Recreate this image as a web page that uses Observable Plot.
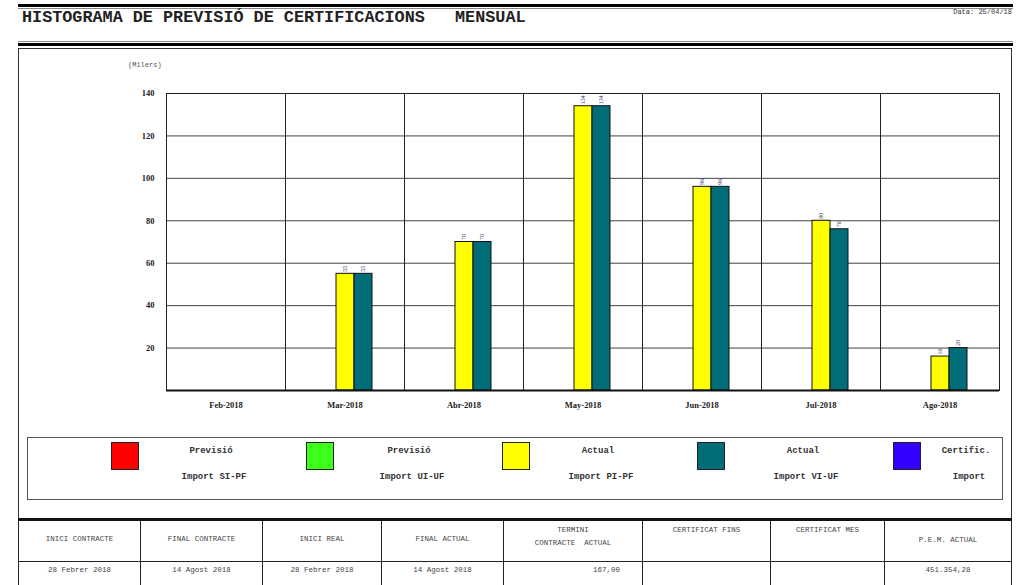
<!DOCTYPE html>
<html>
<head>
<meta charset="utf-8">
<script src="https://cdn.jsdelivr.net/npm/d3@7"></script>
<script src="https://cdn.jsdelivr.net/npm/@observablehq/plot@0.6"></script>
<style>
  html, body { margin: 0; padding: 0; background: #fff; }
  #page { position: relative; width: 1018px; height: 585px; overflow: hidden; background: #fff; font-family: "Liberation Mono", "DejaVu Sans Mono", monospace; }
  .abs { position: absolute; }
  .leglab { position: absolute; font-size: 9px; font-weight: bold; color: #333; transform: translateX(-50%); white-space: pre; }
  .sw { position: absolute; width: 26px; height: 26px; border: 1.5px solid #222; }
  .th, .td { position: absolute; font-size: 7.5px; color: #444; white-space: pre; text-align: center; line-height: 13px; }
</style>
</head>
<body>
<div id="page">
  <div class="abs" style="left:18px;top:4px;width:995px;height:0;border-top:3px solid #000;"></div>
  <div class="abs" style="left:18px;top:8px;width:995px;height:0;border-top:1px solid #888;"></div>
  <div id="title" class="abs" style="left:22px;top:8px;font-size:16.8px;font-weight:bold;white-space:pre;color:#222;"></div>
  <div id="date" class="abs" style="right:6px;top:8px;font-size:7px;color:#333;white-space:pre;"></div>
  <div class="abs" style="left:18px;top:41px;width:995px;height:0;border-top:1px solid #888;"></div>
  <div class="abs" style="left:18px;top:43px;width:995px;height:0;border-top:3px solid #000;"></div>
  <div class="abs" style="left:18px;top:48px;width:992px;height:470px;border:1.5px solid #333;border-bottom:none;"></div>
  <div id="unit" class="abs" style="left:128px;top:61px;font-size:7px;color:#555;"></div>
  <div id="chart" class="abs" style="left:0;top:50px;"></div>
  <div id="legend" class="abs" style="left:27px;top:437px;width:974px;height:61px;border:1.5px solid #555;"></div>
  <div id="table" class="abs" style="left:18px;top:518px;width:994px;height:70px;border-top:3px solid #111;"></div>
</div>
<script>
// ---- data ----
const titleText = "HISTOGRAMA DE PREVISIÓ DE CERTIFICACIONS   MENSUAL";
const dateText = "Data: 25/04/18";
const unitText = "(Milers)";
const months = ["Feb-2018", "Mar-2018", "Abr-2018", "May-2018", "Jun-2018", "Jul-2018", "Ago-2018"];
const seriesTop = ["Previsió", "Previsió", "Actual", "Actual", "Certific."];
const seriesBottom = ["Import SI-PF", "Import UI-UF", "Import PI-PF", "Import VI-UF", "Import"];
const seriesColors = ["#ff0000", "#3dff1a", "#ffff00", "#006d78", "#3300ff"];
const actualPIPF = [0, 55, 70, 134, 96, 80, 16];
const actualVIUF = [0, 55, 70, 134, 96, 76, 20];
const yTicks = [20, 40, 60, 80, 100, 120, 140];
const tableHeaders = ["INICI CONTRACTE", "FINAL CONTRACTE", "INICI REAL", "FINAL ACTUAL", "TERMINI\nCONTRACTE  ACTUAL", "CERTIFICAT FINS", "CERTIFICAT MES", "P.E.M. ACTUAL"];
const tableValues = ["28 Febrer 2018", "14 Agost 2018", "28 Febrer 2018", "14 Agost 2018", "167,00", "", "", "451.354,28"];

// ---- texts ----
document.getElementById("title").textContent = titleText;
document.getElementById("date").textContent = dateText;
document.getElementById("unit").textContent = unitText;

const seriesNames = seriesTop.map((t, i) => t + " " + seriesBottom[i]);
const rows = months.flatMap((m, i) => [
  {month: m, series: seriesNames[2], value: actualPIPF[i]},
  {month: m, series: seriesNames[3], value: actualVIUF[i]}
]);
const labelled = rows.filter(d => d.value > 0);

const chart = Plot.plot({
  width: 1018,
  height: 370,
  marginLeft: 165,
  marginRight: 18,
  marginTop: 43,
  marginBottom: 30,
  style: {fontFamily: "Liberation Serif", fontSize: "8.5px", fontWeight: "bold", background: "transparent", color: "#222"},
  fx: {domain: months, padding: 0, label: null, axis: "bottom", tickSize: 0, tickPadding: 11},
  x: {domain: seriesNames, paddingInner: 0, paddingOuter: 0.64, axis: null},
  y: {domain: [0, 140], ticks: yTicks, tickSize: 0, tickPadding: 12, label: null},
  color: {domain: seriesNames, range: seriesColors},
  marks: [
    Plot.gridY(yTicks, {stroke: "#222", strokeOpacity: 0.85}),
    Plot.frame({stroke: "#222"}),
    Plot.barY(rows, {fx: "month", x: "series", y: "value", fill: "series", stroke: "#111", strokeWidth: 1}),
    Plot.text(labelled, {fx: "month", x: "series", y: "value", text: d => String(d.value), rotate: -90, textAnchor: "start", dy: -2, fontSize: 6, fontWeight: "normal", fill: "#3b2f6b"}),
    Plot.ruleY([0], {stroke: "#111", strokeWidth: 2})
  ]
});
document.getElementById("chart").appendChild(chart);

// ---- legend ----
const legend = document.getElementById("legend");
const swX = [83, 278, 474, 669, 865];
const labX = [183, 381, 570, 775, 938];
seriesNames.forEach((s, i) => {
  const sw = document.createElement("div");
  sw.className = "sw";
  sw.style.left = swX[i] + "px";
  sw.style.top = "4px";
  sw.style.background = seriesColors[i];
  legend.appendChild(sw);
  const t = document.createElement("div");
  t.className = "leglab";
  t.style.left = labX[i] + "px";
  t.style.top = "8px";
  t.textContent = seriesTop[i];
  legend.appendChild(t);
  const b = document.createElement("div");
  b.className = "leglab";
  b.style.left = (labX[i] + 3) + "px";
  b.style.top = "34px";
  b.textContent = seriesBottom[i];
  legend.appendChild(b);
});

// ---- table ----
const table = document.getElementById("table");
const colX = [0, 122, 244, 363, 485, 624, 752, 866, 994];
const headTop = [12, 12, 12, 12, 3, 3, 3, 13];
for (let i = 0; i < 8; i++) {
  const cell = document.createElement("div");
  cell.className = "abs";
  cell.style.left = colX[i] + "px";
  cell.style.top = "0px";
  cell.style.width = (colX[i + 1] - colX[i]) + "px";
  cell.style.height = "70px";
  cell.style.boxSizing = "border-box";
  cell.style.borderLeft = "1.5px solid #222";
  if (i === 7) cell.style.borderRight = "1.5px solid #222";
  table.appendChild(cell);
  const h = document.createElement("div");
  h.className = "th";
  h.style.left = "0px";
  h.style.width = "100%";
  h.style.top = headTop[i] + "px";
  h.textContent = tableHeaders[i];
  cell.appendChild(h);
  const v = document.createElement("div");
  v.className = "td";
  v.style.top = "43px";
  if (i === 4) { v.style.right = "22px"; v.style.textAlign = "right"; }
  else { v.style.left = "0px"; v.style.width = "100%"; }
  v.textContent = tableValues[i];
  cell.appendChild(v);
}
const sep = document.createElement("div");
sep.className = "abs";
sep.style.cssText = "left:0;top:40px;width:994px;height:0;border-top:1.5px solid #222;";
table.appendChild(sep);
</script>
</body>
</html>
